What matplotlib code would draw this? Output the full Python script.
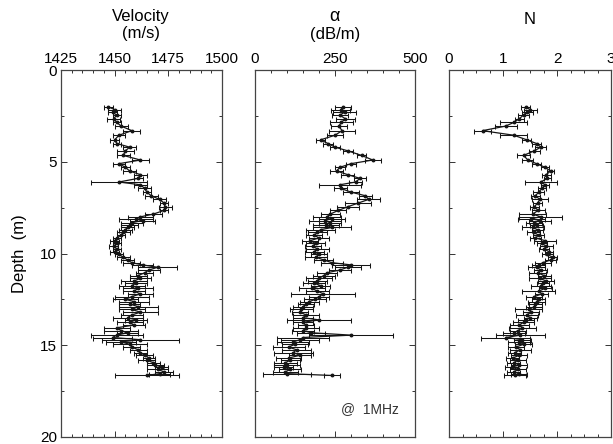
import matplotlib
matplotlib.use("Agg")
import matplotlib.pyplot as plt
from matplotlib.ticker import MultipleLocator

plt.rcParams["font.family"] = ["Liberation Sans", "DejaVu Sans"]

# shared sample depths (m)
depth = [2.00, 2.15, 2.30, 2.45, 2.65, 2.85, 3.05, 3.30, 3.55, 3.80,
         4.00, 4.20, 4.40, 4.65, 4.90, 5.10, 5.30, 5.50, 5.70, 5.90,
         6.10, 6.25, 6.45, 6.65, 6.85, 7.05, 7.25, 7.45, 7.65, 7.85,
         8.00, 8.10, 8.20, 8.32, 8.45, 8.58, 8.70, 8.85, 9.00, 9.15,
         9.30, 9.45, 9.60, 9.75, 9.90, 10.05, 10.20, 10.35, 10.50, 10.62,
         10.75, 10.90, 11.05, 11.20, 11.35, 11.50, 11.62, 11.75, 11.90, 12.05,
         12.20, 12.35, 12.50, 12.62, 12.75, 12.90, 13.05, 13.20, 13.35, 13.50,
         13.62, 13.75, 13.90, 14.05, 14.20, 14.32, 14.45, 14.58, 14.70, 14.82,
         14.95, 15.10, 15.25, 15.40, 15.55, 15.70, 15.82, 15.95, 16.08, 16.20,
         16.32, 16.45, 16.55, 16.65]

velocity = [1447, 1450, 1449, 1451, 1449.5, 1451, 1453, 1458, 1452, 1450,
            1451, 1457, 1455, 1454, 1462, 1452, 1455, 1457, 1462, 1461,
            1452, 1462, 1464, 1465, 1467, 1471, 1473, 1473.5, 1473, 1468,
            1462, 1460, 1463, 1458, 1457, 1456, 1455, 1454, 1453, 1451,
            1450, 1451, 1449.5, 1451, 1450, 1452, 1454, 1456, 1458, 1463,
            1470, 1466, 1464, 1461, 1462, 1459, 1460, 1458, 1461, 1459,
            1462, 1458, 1455, 1459, 1457, 1461, 1458, 1462, 1458, 1456,
            1460, 1457, 1459, 1451, 1453, 1456, 1451, 1449, 1462, 1453,
            1457, 1458, 1461, 1462, 1464, 1466, 1465, 1468, 1469, 1472,
            1470, 1473, 1471, 1465]
velocity_err = [2, 3, 2, 2, 3, 2, 3, 4, 3, 2,
                2, 3, 4, 3, 4, 3, 2, 3, 3, 2,
                13, 3, 3, 2, 3, 3, 2, 3, 2, 4,
                6, 8, 6, 5, 4, 3, 3, 3, 2, 2,
                2, 2, 2, 2, 2, 2, 3, 3, 4, 5,
                9, 5, 4, 4, 5, 6, 5, 6, 7, 5,
                6, 8, 6, 7, 5, 9, 6, 8, 5, 7,
                5, 6, 5, 6, 8, 5, 12, 9, 18, 7,
                8, 4, 4, 3, 4, 3, 4, 3, 4, 3,
                5, 4, 5, 15]

alpha = [275, 268, 280, 265, 282, 270, 262, 272, 250, 205,
         228, 250, 290, 333, 368, 300, 265, 255, 290, 328,
         315, 265, 268, 300, 345, 355, 322, 290, 260, 235,
         225, 240, 218, 235, 222, 240, 205, 195, 185, 200,
         172, 190, 180, 195, 185, 200, 190, 215, 240, 300,
         290, 265, 225, 215, 200, 195, 185, 205, 178, 195,
         214, 200, 188, 170, 160, 150, 145, 140, 160, 150,
         200, 150, 158, 160, 150, 175, 300, 150, 140, 120,
         125, 105, 130, 120, 140, 105, 110, 95, 100, 90,
         110, 95, 100, 240]
alpha_err = [25, 30, 35, 25, 30, 35, 25, 40, 25, 15,
             15, 15, 15, 15, 25, 15, 15, 20, 20, 20,
             20, 65, 20, 25, 20, 35, 40, 35, 25, 30,
             45, 40, 50, 35, 40, 60, 45, 30, 25, 30,
             25, 30, 25, 35, 30, 25, 35, 30, 35, 60,
             40, 35, 30, 35, 40, 30, 35, 30, 40, 35,
             100, 30, 35, 30, 25, 30, 35, 25, 40, 30,
             100, 30, 25, 40, 35, 45, 130, 80, 60, 50,
             40, 50, 45, 60, 35, 40, 30, 35, 40, 30,
             35, 40, 75, 25]

n_exp = [1.42, 1.50, 1.45, 1.38, 1.30, 1.20, 1.05, 0.62, 1.20, 1.44,
         1.62, 1.70, 1.58, 1.38, 1.46, 1.62, 1.78, 1.88, 1.80, 1.82,
         1.70, 1.78, 1.72, 1.66, 1.60, 1.68, 1.64, 1.58, 1.65, 1.55,
         1.70, 1.52, 1.68, 1.58, 1.62, 1.55, 1.64, 1.57, 1.66, 1.60,
         1.78, 1.72, 1.80, 1.76, 1.85, 1.82, 1.92, 1.88, 1.74, 1.66,
         1.62, 1.70, 1.64, 1.76, 1.68, 1.80, 1.74, 1.70, 1.78, 1.66,
         1.72, 1.58, 1.66, 1.62, 1.60, 1.58, 1.48, 1.52, 1.44, 1.50,
         1.42, 1.38, 1.30, 1.36, 1.28, 1.20, 1.32, 1.05, 1.36, 1.30,
         1.38, 1.24, 1.32, 1.22, 1.30, 1.18, 1.28, 1.20, 1.30, 1.16,
         1.28, 1.20, 1.30, 1.22]
n_err = [0.08, 0.12, 0.10, 0.10, 0.08, 0.25, 0.20, 0.15, 0.25, 0.08,
         0.08, 0.10, 0.10, 0.12, 0.10, 0.08, 0.08, 0.06, 0.08, 0.06,
         0.30, 0.08, 0.08, 0.10, 0.08, 0.15, 0.08, 0.08, 0.12, 0.25,
         0.40, 0.25, 0.20, 0.15, 0.12, 0.20, 0.10, 0.12, 0.10, 0.10,
         0.20, 0.10, 0.12, 0.10, 0.08, 0.10, 0.08, 0.10, 0.15, 0.12,
         0.15, 0.12, 0.15, 0.12, 0.20, 0.15, 0.12, 0.18, 0.12, 0.30,
         0.12, 0.15, 0.12, 0.15, 0.12, 0.15, 0.25, 0.15, 0.20, 0.12,
         0.15, 0.20, 0.18, 0.25, 0.15, 0.20, 0.45, 0.45, 0.15, 0.20,
         0.15, 0.15, 0.20, 0.12, 0.15, 0.12, 0.15, 0.12, 0.15, 0.12,
         0.15, 0.12, 0.15, 0.20]

fig = plt.figure(figsize=(6.13, 4.44), dpi=100)

panels = [
    (velocity, velocity_err, (1425, 1500), [1425, 1450, 1475, 1500], 5, 0.0995, 0.2626),
    (alpha, alpha_err, (0, 500), [0, 250, 500], 50, 0.416, 0.261),
    (n_exp, n_err, (0, 3), [0, 1, 2, 3], 0.25, 0.7325, 0.2643),
]

axes = []
for vals, errs, xlim, xt, minor, left, width in panels:
    ax = fig.add_axes([left, 0.016, width, 0.826])
    ax.errorbar(vals, depth, xerr=errs, color="#151515", lw=0.9,
                elinewidth=0.75, capsize=1.8, capthick=0.75,
                marker="o", ms=1.8)
    ax.set_xlim(*xlim)
    ax.set_ylim(20, 0)
    ax.set_xticks(xt)
    ax.xaxis.set_minor_locator(MultipleLocator(minor))
    ax.set_yticks([0, 5, 10, 15, 20])
    ax.yaxis.set_minor_locator(MultipleLocator(2.5))
    ax.tick_params(which="both", direction="in", top=True, bottom=True,
                   left=True, right=True, labeltop=True, labelbottom=False,
                   labelleft=False, width=0.7, colors="#333333",
                   labelcolor="black", labelsize=11, pad=3)
    ax.tick_params(which="major", length=4)
    ax.tick_params(which="minor", length=2.5)
    for sp in ax.spines.values():
        sp.set_linewidth(0.9)
        sp.set_color("#444444")
    axes.append(ax)

axes[0].tick_params(labelleft=True, pad=3)
axes[0].set_ylabel("Depth  (m)", fontsize=12, labelpad=9)

fig.text(0.230, 0.963, "Velocity", ha="center", va="center", fontsize=12)
fig.text(0.230, 0.925, "(m/s)", ha="center", va="center", fontsize=12)
fig.text(0.546, 0.963, "α", ha="center", va="center", fontsize=13)
fig.text(0.546, 0.922, "(dB/m)", ha="center", va="center", fontsize=12)
fig.text(0.864, 0.957, "N", ha="center", va="center", fontsize=12)

axes[1].text(0.72, 0.075, "@  1MHz", transform=axes[1].transAxes,
             ha="center", va="center", fontsize=10, color="#333333")

fig.savefig("out.png", dpi=100)
